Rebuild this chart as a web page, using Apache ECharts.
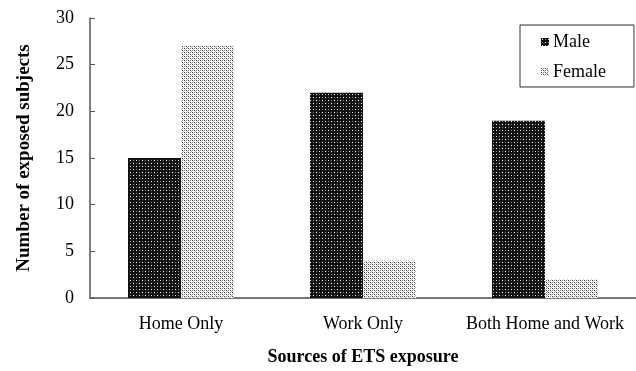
<!DOCTYPE html>
<html>
<head>
<meta charset="utf-8">
<script src="https://cdn.jsdelivr.net/npm/echarts@6/dist/echarts.min.js"></script>
<style>html,body{margin:0;padding:0;background:#fff}#c{width:636px;height:371px}</style>
</head>
<body>
<div id="c"></div>
<script>
const categories = ['Home Only', 'Work Only', 'Both Home and Work'];
const maleValues = [15, 22, 19];
const femaleValues = [27, 4, 2];
const yTicks = [0, 5, 10, 15, 20, 25, 30];

function makePattern(size, bg, dots) {
  const c = document.createElement('canvas');
  c.width = size; c.height = size;
  const g = c.getContext('2d');
  g.fillStyle = bg; g.fillRect(0, 0, size, size);
  dots.forEach(d => { g.fillStyle = d[2]; g.fillRect(d[0], d[1], 1, 1); });
  return c;
}
const malePat = makePattern(6, '#121212', [[1,1,'#ffffff'],[4,4,'#ffffff'],[4,1,'#8a8a8a'],[1,4,'#8a8a8a']]);
const femalePat = makePattern(4, '#ffffff', [[0,0,'#333333'],[2,2,'#333333'],[2,0,'#888888'],[0,2,'#888888'],[1,1,'#bbbbbb'],[3,3,'#bbbbbb']]);

const FONT = 'Liberation Serif';
const chart = echarts.init(document.getElementById('c'), null, {renderer: 'canvas'});
chart.setOption({
  animation: false,
  textStyle: {fontFamily: FONT, color: '#000'},
  grid: {left: 90, top: 18, width: 551, height: 287.5, containLabel: false},
  legend: {
    orient: 'vertical',
    left: 520, top: 25,
    data: ['Male', 'Female'],
    icon: 'rect',
    itemWidth: 8, itemHeight: 8, itemGap: 12,
    padding: [8, 28, 6, 21],
    borderColor: '#333', borderWidth: 1,
    textStyle: {fontFamily: FONT, fontSize: 18, color: '#000', padding: [0,0,0,-1]}
  },
  xAxis: {
    type: 'category',
    data: categories,
    axisLine: {lineStyle: {color: '#777', width: 2}},
    axisTick: {show: false},
    axisLabel: {fontFamily: FONT, fontSize: 18, color: '#000', margin: 17, interval: 0},
    name: 'Sources of ETS exposure',
    nameLocation: 'middle',
    nameGap: 50,
    nameTextStyle: {fontFamily: FONT, fontSize: 18, fontWeight: 'bold', color: '#000'}
  },
  yAxis: {
    type: 'value',
    min: yTicks[0], max: yTicks[yTicks.length - 1], interval: 5,
    splitLine: {show: false},
    axisLine: {show: true, lineStyle: {color: '#555', width: 1.5}},
    axisTick: {show: true, inside: true, length: 5, lineStyle: {color: '#555'}},
    axisLabel: {fontFamily: FONT, fontSize: 18, color: '#000', margin: 16},
    name: 'Number of exposed subjects',
    nameLocation: 'middle',
    nameGap: 56,
    nameRotate: 90,
    nameTextStyle: {fontFamily: FONT, fontSize: 19, fontWeight: 'bold', color: '#000'}
  },
  series: [
    {name: 'Male', type: 'bar', data: maleValues, barWidth: 53, barGap: '0%',
     itemStyle: {color: {image: malePat, repeat: 'repeat'}}},
    {name: 'Female', type: 'bar', data: femaleValues, barWidth: 53, barGap: '0%',
     itemStyle: {color: {image: femalePat, repeat: 'repeat'}}}
  ]
});
</script>
</body>
</html>
